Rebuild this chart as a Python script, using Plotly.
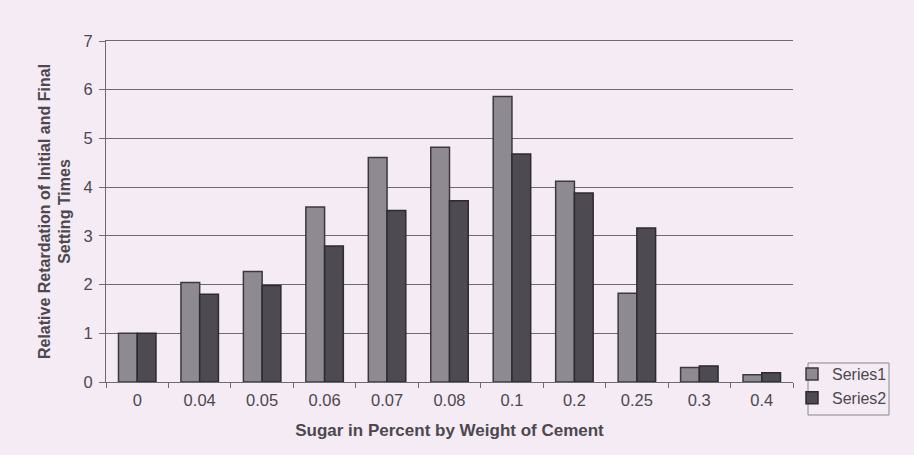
import plotly.graph_objects as go

# Sugar dosage (% by weight of cement) and relative retardation of setting times
sugar_pct = ["0", "0.04", "0.05", "0.06", "0.07", "0.08", "0.1", "0.2", "0.25", "0.3", "0.4"]
series1 = [1.0, 2.04, 2.27, 3.59, 4.61, 4.82, 5.86, 4.12, 1.82, 0.30, 0.15]
series2 = [1.0, 1.80, 1.98, 2.79, 3.52, 3.72, 4.68, 3.88, 3.16, 0.33, 0.19]
y_ticks = [0, 1, 2, 3, 4, 5, 6, 7]

paper = "#f4ebf4"
font_family = "Liberation Sans, Arial, sans-serif"
text_grey = "#4c484e"
line_grey = "#6e6a70"

# plot area in pixels (used to place the legend frame)
W, H = 914, 455
L, R, T, B = 106, 121, 41, 73
pw, ph = W - L - R, H - T - B


def px_x(px):
    return (px - L) / pw


def px_y(py):
    return (H - B - py) / ph


fig = go.Figure()
fig.add_trace(go.Bar(
    x=sugar_pct, y=series1, name="Series1",
    marker=dict(color="#8e8a92", line=dict(color="#3c383e", width=1.5)),
))
fig.add_trace(go.Bar(
    x=sugar_pct, y=series2, name="Series2",
    marker=dict(color="#4e4a52", line=dict(color="#2e2a30", width=1.5)),
))

# legend frame
fig.add_shape(
    type="rect", xref="paper", yref="paper",
    x0=px_x(808), x1=px_x(889), y0=px_y(415), y1=px_y(363),
    line=dict(color="#8a868c", width=1), fillcolor="rgba(0,0,0,0)",
    layer="below",
)

fig.update_layout(
    width=W, height=H,
    margin=dict(l=L, r=R, t=T, b=B),
    paper_bgcolor=paper, plot_bgcolor=paper,
    barmode="group", bargap=0.4, bargroupgap=0.0,
    font=dict(family=font_family, size=16, color=text_grey),
    showlegend=True,
    legend=dict(
        x=px_x(792), y=px_y(357), xanchor="left", yanchor="top",
        bgcolor="rgba(0,0,0,0)", borderwidth=0,
        font=dict(size=16, color=text_grey),
        tracegroupgap=0, itemwidth=30,
    ),
    xaxis=dict(
        type="category",
        showgrid=False,
        showline=True, linecolor=line_grey, linewidth=1, mirror=True,
        ticks="outside", tickson="boundaries", ticklen=5, tickcolor=line_grey,
        tickfont=dict(size=16.5, color=text_grey), ticklabelstandoff=3,
        title=dict(text="<b>Sugar in Percent by Weight of Cement</b>",
                   font=dict(size=17, color=text_grey), standoff=16),
    ),
    yaxis=dict(
        range=[0, 7], tickvals=y_ticks,
        showgrid=True, gridcolor=line_grey, gridwidth=1,
        showline=True, linecolor=line_grey, linewidth=1,
        ticks="outside", ticklen=6, tickcolor=line_grey,
        tickfont=dict(size=16.5, color=text_grey), ticklabelstandoff=3,
        zeroline=False,
        title=dict(text="<b>Relative Retardation of Initial and Final<br>Setting Times</b>",
                   font=dict(size=16, color=text_grey), standoff=8),
    ),
)

fig.write_html("out.html")
